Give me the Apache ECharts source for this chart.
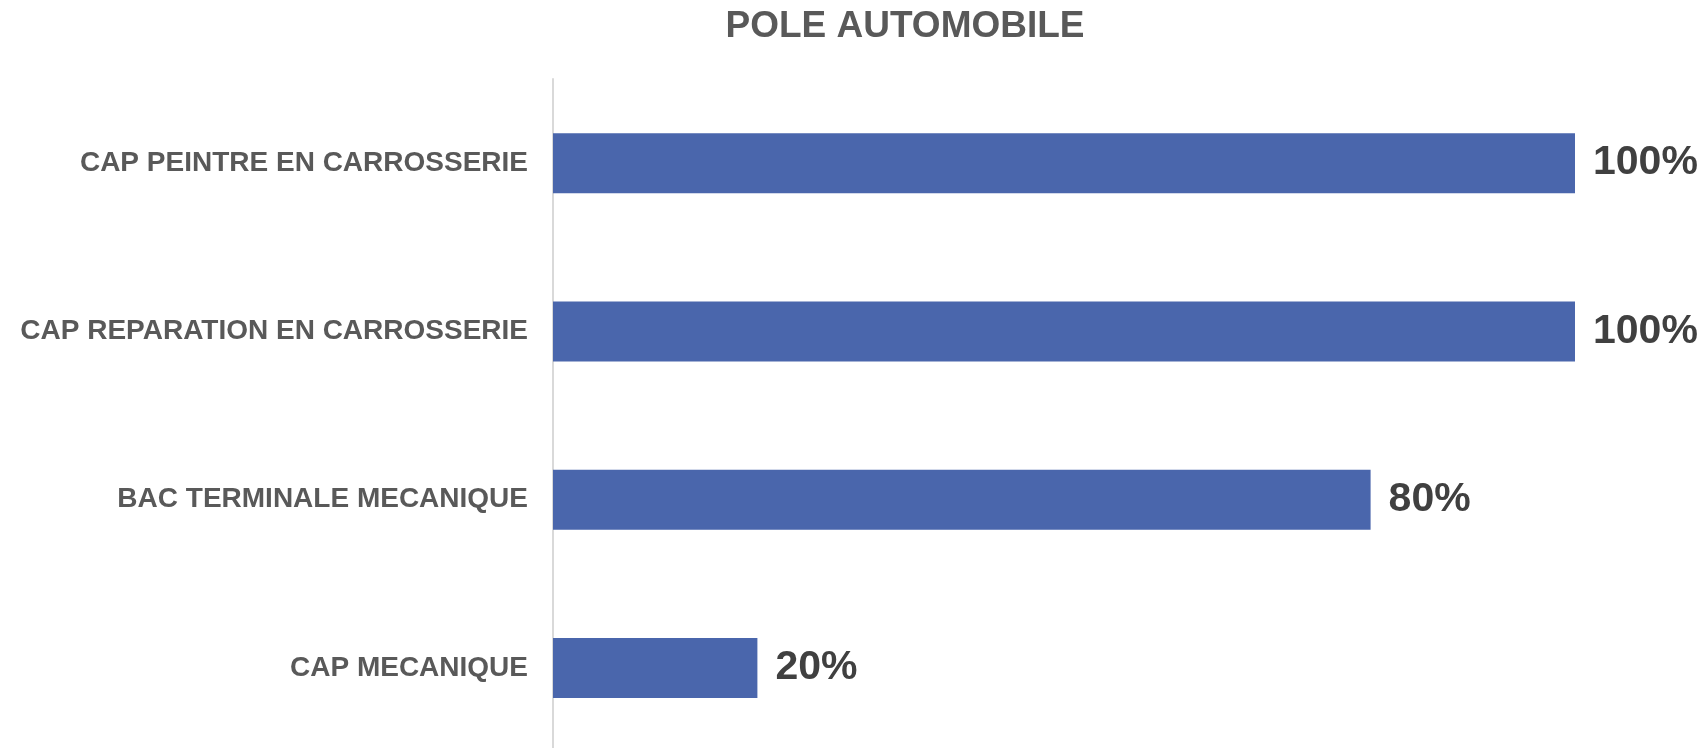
<!DOCTYPE html>
<html lang="fr">

<head>
    <meta charset="UTF-8">
    <title>POLE AUTOMOBILE</title>
    <script src="https://cdn.jsdelivr.net/npm/echarts/dist/echarts.min.js"></script>
    <style>
        html, body {
            margin: 0;
            padding: 0;
            background: #fff;
            overflow: hidden;
        }

        #main {
            width: 1708px;
            height: 760px;
        }
    </style>
</head>

<body>
    <div id="main"></div>
    <script>
        // categories, listed bottom to top like the y axis
        var categories = ['CAP MECANIQUE', 'BAC TERMINALE MECANIQUE', 'CAP REPARATION EN CARROSSERIE', 'CAP PEINTRE EN CARROSSERIE'];
        var rates = [0.2, 0.8, 1, 1];

        var chart = echarts.init(document.getElementById('main'));
        chart.setOption({
            animation: false,
            title: {
                text: 'POLE AUTOMOBILE',
                left: 900,
                top: 3,
                textAlign: 'center',
                textStyle: {
                    fontFamily: 'Liberation Sans',
                    fontSize: 37,
                    fontWeight: 'bold',
                    color: '#595959'
                }
            },
            grid: {
                left: 553,
                right: 133,
                top: 79,
                height: 673
            },
            xAxis: {
                type: 'value',
                min: 0,
                max: 1,
                show: false
            },
            yAxis: {
                type: 'category',
                data: categories,
                axisTick: { show: false },
                axisLine: { lineStyle: { color: '#d9d9d9', width: 2 } },
                axisLabel: {
                    margin: 25,
                    fontFamily: 'Liberation Sans',
                    fontSize: 28,
                    fontWeight: 'bold',
                    color: '#595959'
                }
            },
            series: [{
                type: 'bar',
                data: rates,
                barWidth: 60,
                itemStyle: { color: '#4a66ac' },
                label: {
                    show: true,
                    position: 'right',
                    distance: 18,
                    fontFamily: 'Liberation Sans',
                    fontSize: 41,
                    fontWeight: 'bold',
                    color: '#404040',
                    formatter: function (p) {
                        return Math.round(p.value * 100) + '%';
                    }
                }
            }]
        });
    </script>
</body>

</html>
